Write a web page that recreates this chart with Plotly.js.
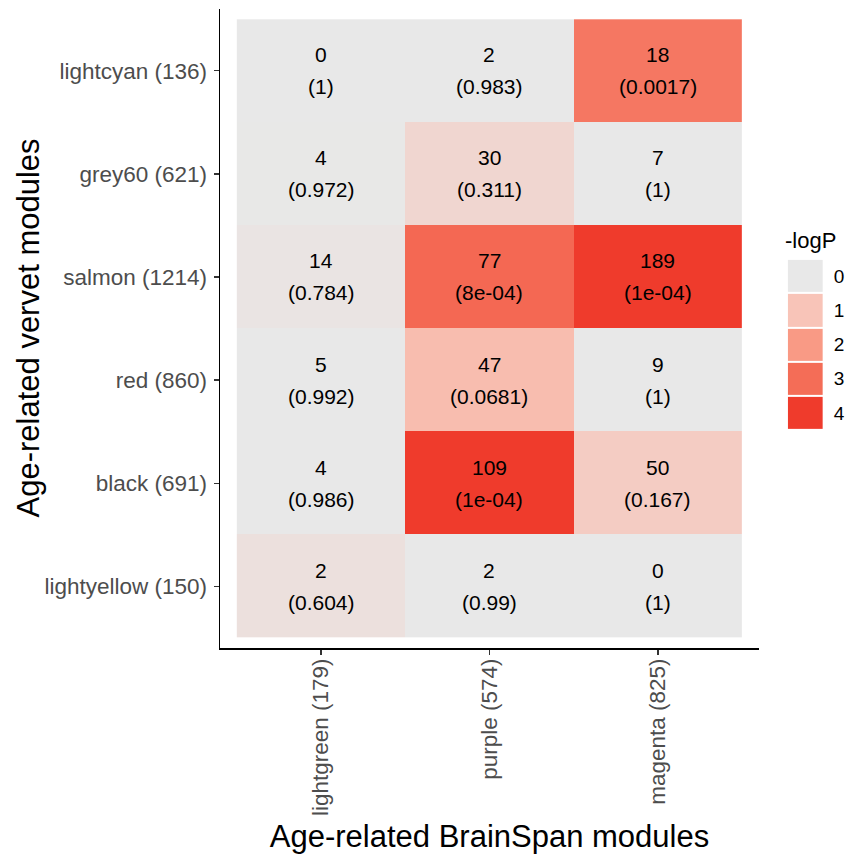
<!DOCTYPE html>
<html>
<head>
<meta charset="utf-8">
<script src="https://cdn.plot.ly/plotly-3.0.1.min.js"></script>
<style>
  html, body { margin: 0; padding: 0; background: #ffffff; }
  #chart { width: 846px; height: 854px; }
</style>
</head>
<body>
<div id="chart"></div>
<script>
// Vervet modules (rows, top to bottom) vs BrainSpan modules (columns)
const vervetModules = ["lightcyan (136)", "grey60 (621)", "salmon (1214)", "red (860)", "black (691)", "lightyellow (150)"];
const brainspanModules = ["lightgreen (179)", "purple (574)", "magenta (825)"];

// Overlap counts per row
const overlapCounts = [
  [0, 2, 18],
  [4, 30, 7],
  [14, 77, 189],
  [5, 47, 9],
  [4, 109, 50],
  [2, 2, 0]
];

// P-values as printed in the cells
const pValues = [
  ["1", "0.983", "0.0017"],
  ["0.972", "0.311", "1"],
  ["0.784", "8e-04", "1e-04"],
  ["0.992", "0.0681", "1"],
  ["0.986", "1e-04", "0.167"],
  ["0.604", "0.99", "1"]
];

// Legend levels for -logP
const legendLevels = [0, 1, 2, 3, 4];

const fillScale = [
  [0.00, "#E8E8E8"],
  [0.25, "#F8C4B8"],
  [0.50, "#F99A85"],
  [0.75, "#F46D57"],
  [1.00, "#EF3B2C"]
];

const negLogP = pValues.map(row => row.map(p => -Math.log10(parseFloat(p))));

const textFont = { family: "Liberation Sans, Arial, sans-serif", size: 21, color: "#000000" };
const tickFont = { family: "Liberation Sans, Arial, sans-serif", size: 22.5, color: "#4D4D4D" };
const titleFont = { family: "Liberation Sans, Arial, sans-serif", size: 31, color: "#000000" };

const heat = {
  type: "heatmap",
  x: brainspanModules,
  y: vervetModules,
  z: negLogP,
  zmin: 0,
  zmax: 4,
  colorscale: fillScale,
  showscale: false,
  xgap: 0,
  ygap: 0,
  hoverinfo: "skip"
};

const legendHeat = {
  type: "heatmap",
  x: ["-logP"],
  y: legendLevels,
  z: legendLevels.map(v => [v]),
  zmin: 0,
  zmax: 4,
  colorscale: fillScale,
  showscale: false,
  xgap: 0,
  ygap: 2,
  xaxis: "x2",
  yaxis: "y2",
  hoverinfo: "skip"
};

// Two-line cell labels: count above, p-value below
const annotations = [];
vervetModules.forEach((rowName, i) => {
  brainspanModules.forEach((colName, j) => {
    annotations.push({
      x: colName, y: rowName, xref: "x", yref: "y",
      text: String(overlapCounts[i][j]),
      showarrow: false, yshift: 16, font: textFont
    });
    annotations.push({
      x: colName, y: rowName, xref: "x", yref: "y",
      text: "(" + pValues[i][j] + ")",
      showarrow: false, yshift: -16, font: textFont
    });
  });
});

// Vertical axis title, placed left of the row labels
annotations.push({
  x: 0, y: 0.5, xref: "paper", yref: "paper",
  xanchor: "center", yanchor: "middle",
  xshift: -192, textangle: -90,
  text: "Age-related vervet modules", showarrow: false,
  font: titleFont
});

// Legend title
annotations.push({
  x: 0.899, y: 0.638, xref: "paper", yref: "paper",
  xanchor: "left", yanchor: "middle",
  text: "-logP", showarrow: false,
  font: { family: "Liberation Sans, Arial, sans-serif", size: 22, color: "#000000" }
});

const layout = {
  width: 846,
  height: 854,
  margin: { l: 220, r: 0, t: 9, b: 206 },
  paper_bgcolor: "#ffffff",
  plot_bgcolor: "#ffffff",
  showlegend: false,
  xaxis: {
    domain: [0, 0.861],
    type: "category",
    categoryorder: "array",
    categoryarray: brainspanModules,
    range: [-0.6, 2.6],
    showgrid: false,
    zeroline: false,
    showline: true,
    linecolor: "#000000",
    linewidth: 1.5,
    ticks: "outside",
    ticklen: 5,
    tickwidth: 1.2,
    tickcolor: "#333333",
    tickangle: -90,
    tickfont: tickFont,
    ticklabelstandoff: -5,
    title: { text: "Age-related BrainSpan modules", font: titleFont, standoff: 20 },
    fixedrange: true
  },
  yaxis: {
    domain: [0, 1],
    type: "category",
    categoryorder: "array",
    categoryarray: vervetModules.slice().reverse(),
    range: [-0.6, 5.6],
    showgrid: false,
    zeroline: false,
    showline: true,
    linecolor: "#000000",
    linewidth: 1.5,
    ticks: "outside",
    ticklen: 5,
    tickwidth: 1.2,
    tickcolor: "#333333",
    tickfont: tickFont,
    ticklabelstandoff: 2,
    fixedrange: true
  },
  xaxis2: {
    domain: [0.907, 0.963],
    anchor: "y2",
    showticklabels: false,
    ticks: "",
    showgrid: false,
    zeroline: false,
    showline: false,
    fixedrange: true
  },
  yaxis2: {
    domain: [0.341, 0.609],
    anchor: "x2",
    side: "right",
    autorange: "reversed",
    tickmode: "array",
    tickvals: legendLevels,
    ticktext: legendLevels.map(String),
    ticks: "",
    ticklabelstandoff: 10,
    tickfont: { family: "Liberation Sans, Arial, sans-serif", size: 19, color: "#000000" },
    showgrid: false,
    zeroline: false,
    showline: false,
    fixedrange: true
  },
  annotations: annotations
};

Plotly.newPlot("chart", [heat, legendHeat], layout, { displayModeBar: false, staticPlot: true });
</script>
</body>
</html>
